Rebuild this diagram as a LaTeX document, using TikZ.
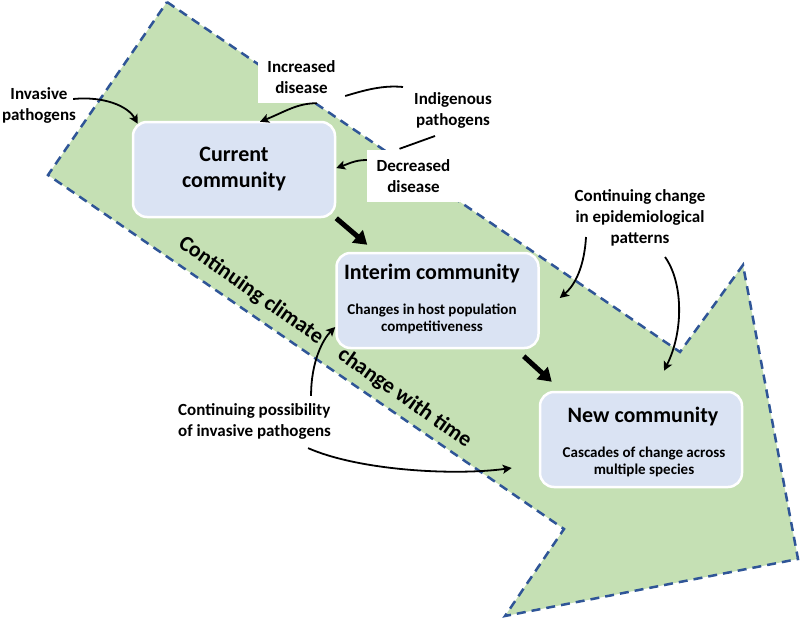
\documentclass[tikz,border=0pt]{standalone}
\usepackage{fontspec}
\setmainfont{Carlito}
\usetikzlibrary{arrows.meta}
\definecolor{arrowgreen}{RGB}{197,224,180}
\definecolor{dashblue}{RGB}{47,85,151}
\definecolor{boxblue}{RGB}{218,227,243}
\tikzset{
  cbox/.style={draw=white, line width=2.5pt, fill=boxblue, rounded corners=14pt,
    minimum width=202pt, minimum height=95pt, inner sep=0pt, align=center},
  titletext/.style={font=\bfseries\fontsize{22}{26}\selectfont, align=center, inner sep=0pt},
  subtext/.style={font=\bfseries\fontsize{15}{17}\selectfont, align=center, inner sep=0pt},
  lbl/.style={font=\bfseries\fontsize{17}{21}\selectfont, align=center, inner sep=0pt},
  wlbl/.style={lbl, fill=white},
  thinarrow/.style={line width=1.8pt, -{Stealth[length=9pt,width=9pt,inset=2pt]}},
  thinline/.style={line width=1.8pt},
  bigarrow/.style={line width=5pt, -{Triangle[length=13pt,width=16pt]}},
  bigshape/.style={fill=arrowgreen, draw=dashblue, line width=2.5pt, dash pattern=on 9pt off 6pt},
}
\begin{document}
\begin{tikzpicture}[x=1pt,y=-1pt]
\useasboundingbox (0,0) rectangle (800,618);
\fill[white] (0,0) rectangle (800,618);
% big green arrow
\draw[bigshape] (167,2) -- (680,352) -- (743,265) -- (798,559) -- (505,616) -- (564,529) -- (48,175) -- cycle;
% rotated label
\node[rotate=-35, font=\bfseries\fontsize{22}{26}\selectfont, inner sep=0pt] (climate) at (325,342.5)
  {Continuing climate\hspace{1.05em}change with time};
% white labels
\node[wlbl, minimum width=87pt, minimum height=52pt] (incr) at (301.5,77) {Increased\\disease};
\node[wlbl, minimum width=93pt, minimum height=52pt] (decr) at (413.5,176) {Decreased\\disease};
% other labels
\node[lbl] (invasive) at (39,105) {Invasive\\pathogens};
\node[lbl] (indig) at (453,110.5) {Indigenous\\pathogens};
\node[lbl] (contchange) at (640,217.5) {Continuing change\\in epidemiological\\patterns};
\node[lbl, align=left, anchor=west] (contposs) at (178,421) {Continuing possibility\\of invasive pathogens};
% community boxes
\node[cbox, titletext] (current) at (234,169.5) {Current\\community};
\node[cbox] (interim) at (437.5,300.5) {};
\node[titletext] (interimtitle) at (432,274) {Interim community};
\node[subtext] (interimsub) at (432,319) {Changes in host population\\competitiveness};
\node[cbox] (new) at (641,439.5) {};
\node[titletext] (newtitle) at (643,417) {New community};
\node[subtext] (newsub) at (644,462) {Cascades of change across\\multiple species};
% thick arrows
\draw[bigarrow] (current.south east) -- ([shift={(32,-7)}]interim.north west);
\draw[bigarrow] ([shift={(-16,7)}]interim.south east) -- ([shift={(13,-9)}]new.north west);
% thin connectors
\draw[thinarrow] ([shift={(-3,-6)}]invasive.east) .. controls +(30,-3) and +(-10,-18) .. ([shift={(6,3)}]current.north west);
\draw[thinarrow] ([shift={(15.5,0)}]incr.south) .. controls +(-20,0) and +(25,-10) .. ([shift={(26,1)}]current.north);
\draw[thinline] ([shift={(-50,-23.5)}]indig.center) .. controls +(-20,-2) and +(20,-6) .. ([shift={(0,19)}]incr.east);
\draw[thinline] ([shift={(-18,25.5)}]indig.center) -- ([shift={(-14,-1)}]decr.north);
\draw[thinarrow] ([shift={(0,-16)}]decr.west) .. controls +(-12,0) and +(12,-4) .. ([shift={(0,-1.5)}]current.east);
\draw[thinarrow] ([shift={(-54,19.5)}]contchange.center) .. controls +(-2,35) and +(12,-10) .. ([shift={(20,-2.5)}]interim.east);
\draw[thinarrow] ([shift={(25,39.5)}]contchange.center) .. controls +(18,25) and +(20,-40) .. ([shift={(23,-20)}]new.north);
\draw[thinarrow] ([shift={(56.5,-7)}]contposs.north) .. controls +(0,-35) and +(-12,12) .. ([shift={(0,26.5)}]interim.west);
\draw[thinarrow] ([shift={(53.5,9)}]contposs.south) .. controls +(50,22) and +(-60,8) .. ([shift={(-27,28.5)}]new.west);
\end{tikzpicture}
\end{document}
